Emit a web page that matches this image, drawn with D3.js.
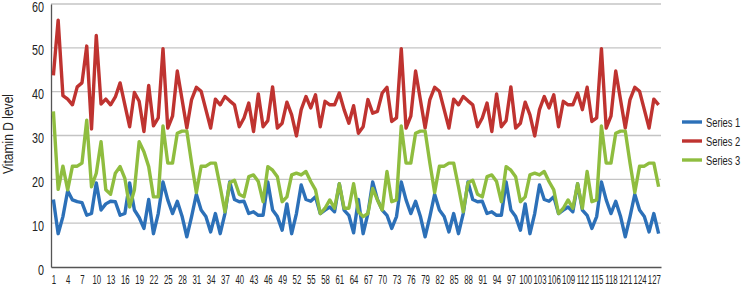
<!DOCTYPE html>
<html><head><meta charset="utf-8">
<script src="https://cdn.jsdelivr.net/npm/d3@7"></script>
<style>
html,body{margin:0;padding:0;background:#fff;}
text{font-family:"Liberation Sans",Arial,sans-serif;fill:#222;}
</style></head>
<body><svg id="c" width="741" height="286"></svg>
<script>
const categories = d3.range(1, 129);
const yTicks = [0, 10, 20, 30, 40, 50, 60];
const seriesNames = ["Series 1", "Series 2", "Series 3"];
const seriesColors = ["#2c70b8", "#bf3330", "#8fbd3f"];

const series1 = [15.4,7.6,11.5,17.4,15.3,14.9,14.7,11.8,12.2,19.2,13,14.4,15,14.9,11.8,12.2,19.2,13,11.3,8.8,15.4,7.6,12.2,
  19.4,15.3,12.2,15,11.6,6.9,11.5,16.6,13,11.5,8,12.2,7.6,12.2,19.4,15.4,14.9,15,12.2,12.6,11.8,11.8,19.4,13,11.5,8.4,14.4,7.6,12.2,18.7,15.4,15,16,12.2,13,13.7,12.6,19,13,
  11.8,7.8,15.4,7.6,12.2,19.4,15.4,13,11.8,8.8,11.5,
  19.4,15.3,12.2,15,11.6,6.9,11.5,16.6,13,11.5,8,12.2,7.6,12.2,19.4,15.4,14.9,15,12.2,12.6,11.8,11.8,19.4,13,11.5,8.4,14.4,7.6,12.2,18.7,15.4,15,16,12.2,13,13.7,12.6,19,13,
  11.8,8.8,11.5,
  19.4,15.3,12.2,15,11.6,6.9,11.5,16.6,13,11.5,8,12.2,7.6];

const series2 = [43.7,56.3,39.1,38.3,37,41.1,42,50.4,31.5,52.8,37.2,38.3,37,38.8,42,37,32,39.8,37.8,30.9,41.4,32.2,34,
  49.8,31.7,34.4,44.7,38.2,31.7,38.2,41,40.1,35.9,31.7,38.3,37,38.9,37.9,37,32,34,37.4,30.9,39.5,32,33.4,41.1,31.7,32.8,37.6,34.7,29.9,35.9,38.9,36.3,39.3,32,37.8,37,37,39.7,35.9,
  32.8,36.8,30.5,32,38.2,35.1,35.5,39.7,41,33.2,34,
  49.8,31.7,34.4,44.7,38.2,31.7,38.2,41,40.1,35.9,31.7,38.3,37,38.9,37.9,37,32,34,37.4,30.9,39.5,32,33.4,41.1,31.7,32.8,37.6,34.7,29.9,35.9,38.9,36.3,39.3,32,37.8,37,37,39.7,35.9,
  41,33.2,34,
  49.8,31.7,34.4,44.7,38.2,31.7,38.2,41,40.1,35.9,31.7,38.3,37];

const series3 = [35.5,17.7,23,17.6,23,23,23.7,33.5,18.3,21.4,28.6,17.6,16.6,21.4,22.9,20.2,13.7,17.6,28.6,26.3,22.9,16,16,
  32.2,23.7,23.7,30.5,31,31,23.7,17,23,23,23.7,23.7,18.3,12.6,19.2,19.8,16.6,16,20.6,21,19.5,14.9,22.9,22.1,20.6,14.9,16,21,21.4,21,21.8,19.5,17.6,12.2,13.4,15.3,13.4,19,13.4,
  13.4,19,12.6,11.5,12.2,17.9,15.3,13,21.8,14.9,15.3,
  32.2,23.7,23.7,30.5,31,31,23.7,17,23,23,23.7,23.7,18.3,12.6,19.2,19.8,16.6,16,20.6,21,19.5,14.9,22.9,22.1,20.6,14.9,16,21,21.4,21,21.8,19.5,17.6,12.2,13.4,15.3,13.4,19,13.4,
  21.8,14.9,15.3,
  32.2,23.7,23.7,30.5,31,31,23.7,17,23,23,23.7,23.7,18.3];

const xTickLabels = categories.filter((d, i) => i % 3 === 0);

const svg = d3.select("#c");
const L = 51, R = 661, T = 4, B = 267;
const x = d3.scalePoint().domain(categories).range([L, R]).padding(0.5);
const y = d3.scaleLinear().domain([0, 60]).range([B, T]);

// gridlines
svg.append("g").selectAll("line").data(yTicks.filter(d => d > 0)).join("line")
  .attr("x1", L).attr("x2", R).attr("y1", d => y(d)).attr("y2", d => y(d))
  .attr("stroke", "#c4c4c4").attr("stroke-width", 1.3);

// y axis
const yAxis = svg.append("g").attr("transform", `translate(${L},0)`)
  .call(d3.axisLeft(y).tickValues(yTicks).tickSize(0).tickPadding(0));
yAxis.select(".domain").attr("stroke", "#555").attr("stroke-width", 1.3);
yAxis.selectAll("text").attr("font-size", 14).attr("font-family", null).attr("fill", "#222")
  .attr("x", 0).attr("dy", "0.5em")
  .attr("transform", "translate(-7,0) scale(0.77,1)");

// x axis
const xAxis = svg.append("g").attr("transform", `translate(0,${B})`)
  .call(d3.axisBottom(x).tickValues(xTickLabels).tickSize(0).tickPadding(8));
xAxis.select(".domain").attr("stroke", "#555").attr("stroke-width", 1.3);
xAxis.selectAll("text").attr("font-size", 13).attr("font-family", null).attr("fill", "#222")
  .attr("transform", "scale(0.6,1)");

// y title
svg.append("text").attr("transform", "translate(13,134) rotate(-90) scale(0.86,1)")
  .attr("text-anchor", "middle").attr("font-size", 14)
  .text("Vitamin D level");

// lines
const data = [series1, series2, series3];
const line = d3.line().x((d, i) => x(categories[i])).y(d => y(d));
svg.append("g").selectAll("path").data(data).join("path")
  .attr("d", d => line(d)).attr("fill", "none")
  .attr("stroke", (d, i) => seriesColors[i]).attr("stroke-width", 3.4)
  .attr("stroke-linejoin", "round");

// legend
const lg = svg.append("g").selectAll("g").data(seriesNames).join("g")
  .attr("transform", (d, i) => `translate(682,${122 + i * 19})`);
lg.append("line").attr("x1", 0).attr("x2", 20).attr("y1", 0).attr("y2", 0)
  .attr("stroke", (d, i) => seriesColors[i]).attr("stroke-width", 3.4);
lg.append("text").attr("transform", "translate(24,0) scale(0.72,1)").attr("dy", "0.38em")
  .attr("font-size", 13).text(d => d);
</script></body></html>
